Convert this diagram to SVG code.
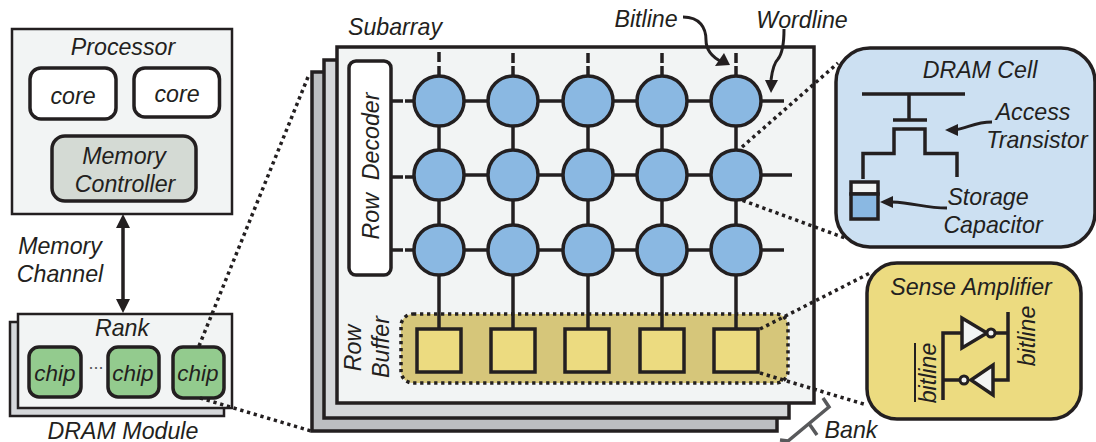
<svg xmlns="http://www.w3.org/2000/svg" width="1096" height="442" viewBox="0 0 1096 442">
<style>
text{font-family:"Liberation Sans",Arial,sans-serif;font-style:italic;font-size:23.2px;fill:#231f20;text-anchor:middle;white-space:pre}
.b{fill:#f2f4f4;stroke:#231f20;stroke-width:2.5}
.rd{stroke:#231f20;stroke-width:3.5}
.c{fill:#8ab8e2;stroke:#231f20;stroke-width:3.5}
.s{fill:#ecdb80;stroke:#231f20;stroke-width:3.5}
.l{fill:none;stroke:#231f20;stroke-width:3.5}
.d{stroke:#231f20;stroke-width:3.5;stroke-dasharray:3.3 3.7}
.h{fill:#231f20;stroke:none}
.chip{fill:#93cb8e;stroke:#231f20;stroke-width:3.5}
.ct{font-size:22.5px}
</style>
<g id="bank">
<rect x="312" y="72" width="465" height="359" fill="#bcbec1" stroke="#231f20" stroke-width="3.5"/>
<rect x="324" y="60" width="465" height="358" fill="#d5d7da" stroke="#231f20" stroke-width="3.5"/>
<path d="M780,440 L788,441 L829,407 L823,398 M810,425 L817,435" fill="none" stroke="#58595b" stroke-width="3.5"/>
<text x="851" y="438">Bank</text>
</g>
<g id="subarray">
<rect x="337" y="47" width="477" height="356" class="b" style="stroke-width:3.5"/>
<text x="395" y="35">Subarray</text>
</g>
<g id="processor">
<rect x="12" y="29" width="220" height="185" class="b"/>
<text x="123" y="55">Processor</text>
</g>
<g id="core1"><rect x="30" y="68" width="86" height="51" rx="11" fill="#fff" class="rd"/><text x="73" y="104">core</text></g>
<g id="core2"><rect x="134" y="68" width="85.500" height="49" rx="11" fill="#fff" class="rd"/><text x="177" y="102">core</text></g>
<g id="memory-controller"><rect x="52" y="136" width="144" height="65" rx="13" fill="#d4dad4" class="rd"/><text x="124" y="164">Memory</text><text x="125" y="192">Controller</text></g>
<g id="memory-channel"><text x="60" y="254">Memory</text><text x="60" y="282">Channel</text></g>
<g id="dram-module">
<rect x="10" y="322" width="214" height="94" fill="#d5d7da" stroke="#231f20" stroke-width="2.500"/>
<rect x="18" y="314" width="214" height="94" class="b"/>
<text x="122" y="336">Rank</text>
<text x="123" y="439">DRAM Module</text>
</g>
<g id="chip1"><rect x="29" y="347" width="52" height="50" rx="10" class="chip"/><text class="ct" x="55" y="381">chip</text></g>
<text x="96" y="369" style="font-size:18px;font-style:normal;fill:#58595b">...</text>
<g id="chip2"><rect x="108" y="347" width="51" height="50" rx="10" class="chip"/><text class="ct" x="133" y="381">chip</text></g>
<g id="chip3"><rect x="173" y="347" width="51" height="51" rx="10" class="chip"/><text class="ct" x="198" y="381">chip</text></g>
<g id="row-decoder"><rect x="349" y="61" width="42" height="214" rx="7" fill="#fff" class="rd"/><text transform="translate(379,166) rotate(-90)">Row  Decoder</text></g>
<g id="row-buffer"><rect x="401" y="314" width="387" height="69" rx="12" fill="#d6c67a" class="d"/>
<text transform="translate(361,348) rotate(-90)">Row</text><text transform="translate(389,347) rotate(-90)">Buffer</text></g>
<g id="connectors">
<path class="l" d="M123,222V305M439,52V62M439,66V76M513,53V63M513,66V76M588,53V63M588,66V76M662,53V63M662,66V76M736,53V63M736,66V76"/>
<path class="h" d="M123,214L116,228H130ZM123,313L116,299H130Z"/>
<path class="l" d="M391,101H403M405,101H414M391,177H403M405,177H414M391,250H403M405,250H414"/>
<path class="l" d="M439,101H784M439,175H792M439,250H784"/>
<path class="l" d="M439,101V350M513,101V350M588,101V350M662,101V350M736,101V350"/>
<path d="M683,17C700,17 706,28 706,40C706,52 714,58 722,62" fill="none" stroke="#231f20" stroke-width="3"/>
<path class="h" d="M730,65L715,66L724,53Z"/>
<path d="M784,29C784,42 782,54 778,59C774,63 772,72 771,80" fill="none" stroke="#231f20" stroke-width="3"/>
<path class="h" d="M771,93L765,80L778,80Z"/>
<path class="d" fill="none" d="M308,77L199,346M200,398L311,431M742,147L838,63M736,198L845,238M760,329L872,272M760,373L867,405"/>
</g>
<g id="cells">
<circle cx="439" cy="101" r="25" class="c"/><circle cx="513" cy="101" r="25" class="c"/><circle cx="588" cy="101" r="25" class="c"/><circle cx="662" cy="101" r="25" class="c"/><circle cx="736" cy="101" r="25" class="c"/>
<circle cx="439" cy="175" r="25" class="c"/><circle cx="513" cy="175" r="25" class="c"/><circle cx="588" cy="175" r="25" class="c"/><circle cx="662" cy="175" r="25" class="c"/><circle cx="736" cy="175" r="25" class="c"/>
<circle cx="439" cy="250" r="25" class="c"/><circle cx="513" cy="250" r="25" class="c"/><circle cx="588" cy="250" r="25" class="c"/><circle cx="662" cy="250" r="25" class="c"/><circle cx="736" cy="250" r="25" class="c"/>
</g>
<g id="buffers">
<rect x="417" y="329" width="44" height="43" class="s"/><rect x="491" y="329" width="44" height="43" class="s"/><rect x="565" y="329" width="44" height="43" class="s"/><rect x="640" y="329" width="44" height="43" class="s"/><rect x="714" y="329" width="44" height="43" class="s"/>
</g>
<g id="labels"><text x="646" y="27">Bitline</text><text x="802" y="28">Wordline</text></g>
<g id="dram-cell">
<rect x="836" y="48" width="259" height="199" rx="34" fill="#cce0f2" class="rd"/>
<text x="980" y="78">DRAM Cell</text>
<text x="1033" y="120">Access</text><text x="1037" y="148">Transistor</text>
<text x="988" y="205">Storage</text><text x="993" y="233">Capacitor</text>
<path class="l" d="M862,94H965M909,94V120M893,120H927M863,179V153.500H894V129H925V153.500H957V177"/>
<rect x="851" y="182" width="27" height="12" fill="#f2f4f4" class="rd"/>
<rect x="851" y="194" width="27" height="25" fill="#8ab8e2" class="rd"/>
<path d="M992,122C975,122 968,128 955,130" fill="none" stroke="#231f20" stroke-width="3"/>
<path class="h" d="M945,130L958,124L958,136Z"/>
<path d="M947,208C925,208 915,203 892,202" fill="none" stroke="#231f20" stroke-width="3"/>
<path class="h" d="M880,202L893,196L893,208Z"/>
</g>
<g id="sense-amplifier">
<rect x="867" y="263" width="214" height="156" rx="30" fill="#ecdb80" class="rd"/>
<text x="971" y="295">Sense Amplifier</text>
<path class="l" d="M1008,312V380H993M995,333H1008M943,400V333H962M943,380H960"/>
<path d="M962,318V348L987,333Z" fill="#f2f4f4" class="rd"/>
<circle cx="991" cy="333" r="4" fill="#f2f4f4" stroke="#231f20" stroke-width="3"/>
<path d="M993,365V395L971,380Z" fill="#f2f4f4" class="rd"/>
<circle cx="964" cy="380" r="4" fill="#f2f4f4" stroke="#231f20" stroke-width="3"/>
<text transform="translate(1035,336) rotate(-90)">bitline</text>
<text transform="translate(936,373) rotate(-90)">bitline</text>
<path d="M915,343V402" fill="none" stroke="#231f20" stroke-width="2"/>
</g>
</svg>
